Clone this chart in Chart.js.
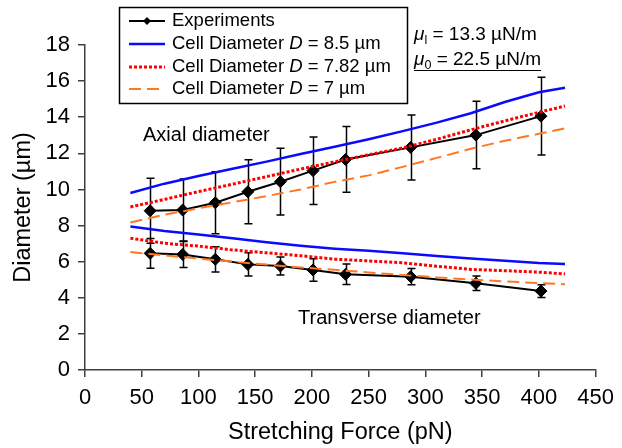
<!DOCTYPE html>
<html>
<head>
<meta charset="utf-8">
<script src="https://cdn.jsdelivr.net/npm/chart.js@4/dist/chart.umd.min.js"></script>
<style>
  html, body { margin: 0; padding: 0; background: #fff; }
</style>
</head>
<body>
<canvas id="diameterChart" width="622" height="448"></canvas>
<script>
// measured cell diameters (um) against stretching force (pN)
const forceExp = [57.4, 86.1, 114.8, 143.5, 172.2, 200.9, 229.6, 287, 344.4, 401.8];
const axialExp = [8.82, 8.86, 9.26, 9.87, 10.43, 11.04, 11.66, 12.33, 13.01, 14.06];
const axialErr = [1.8, 1.72, 1.72, 1.77, 1.85, 1.87, 1.82, 1.8, 1.87, 2.15];
const transExp = [6.46, 6.4, 6.13, 5.85, 5.76, 5.54, 5.3, 5.17, 4.8, 4.37];
const transErr = [0.82, 0.72, 0.7, 0.65, 0.5, 0.62, 0.57, 0.45, 0.4, 0.35];

// model predictions for three initial cell diameters
const forceModel = [40, 70, 100, 130, 160, 190, 220, 250, 280, 310, 340, 370, 400, 423];
const axial85  = [9.8, 10.32, 10.74, 11.15, 11.54, 11.96, 12.36, 12.78, 13.23, 13.7, 14.22, 14.84, 15.38, 15.63];
const axial782 = [9.03, 9.45, 9.88, 10.29, 10.71, 11.13, 11.53, 11.92, 12.3, 12.78, 13.3, 13.8, 14.27, 14.62];
const axial7   = [8.17, 8.6, 8.96, 9.29, 9.63, 10.0, 10.42, 10.78, 11.25, 11.75, 12.25, 12.7, 13.08, 13.38];
const trans85  = [7.95, 7.7, 7.5, 7.3, 7.08, 6.88, 6.72, 6.6, 6.46, 6.32, 6.17, 6.05, 5.92, 5.87];
const trans782 = [7.3, 7.02, 6.86, 6.65, 6.49, 6.33, 6.14, 6.04, 5.94, 5.75, 5.57, 5.5, 5.42, 5.32];
const trans7   = [6.53, 6.35, 6.17, 6.0, 5.84, 5.68, 5.55, 5.4, 5.26, 5.13, 5.01, 4.91, 4.81, 4.75];

const legendLabels = ['Experiments', 'Cell Diameter ', 'Cell Diameter ', 'Cell Diameter '];
const legendDiameters = [null, '8.5', '7.82', '7'];

const FONT = '"Liberation Sans", Arial, sans-serif';
const BLUE = '#0a0aff';
const RED = '#ff0000';
const ORANGE = '#ff7722';
const AXIS = '#404040';

function pts(xs, ys) {
  return ys.map((y, i) => ({ x: xs[i], y: y }));
}

const styles = {
  exp:    { borderColor: '#000', borderWidth: 2, borderDash: [], order: 4 },
  d85:    { borderColor: BLUE, borderWidth: 2.5, borderDash: [], order: 3 },
  d782:   { borderColor: RED, borderWidth: 3, borderDash: [3, 2], order: 2 },
  d7:     { borderColor: ORANGE, borderWidth: 2, borderDash: [12, 6], order: 1 }
};

function modelSet(values, style) {
  return Object.assign({
    data: pts(forceModel, values),
    showLine: true,
    pointRadius: 0,
    tension: 0
  }, style);
}

function expSet(values) {
  return Object.assign({
    data: pts(forceExp, values),
    showLine: true,
    pointStyle: 'rectRot',
    pointRadius: 6,
    pointBackgroundColor: '#000',
    pointBorderColor: '#000',
    pointBorderWidth: 1,
    tension: 0
  }, styles.exp);
}

// vertical error bars with short caps under the experiment markers
const errorBars = {
  id: 'errorBars',
  beforeDatasetsDraw(chart) {
    const ctx = chart.ctx, xs = chart.scales.x, ys = chart.scales.y;
    ctx.save();
    ctx.strokeStyle = '#000';
    ctx.lineWidth = 1.5;
    [[axialExp, axialErr], [transExp, transErr]].forEach(([vals, errs]) => {
      vals.forEach((v, i) => {
        const px = Math.round(xs.getPixelForValue(forceExp[i])) + 0.5;
        const top = ys.getPixelForValue(v + errs[i]);
        const bot = ys.getPixelForValue(v - errs[i]);
        ctx.beginPath();
        ctx.moveTo(px, top); ctx.lineTo(px, bot);
        ctx.moveTo(px - 4, top); ctx.lineTo(px + 4, top);
        ctx.moveTo(px - 4, bot); ctx.lineTo(px + 4, bot);
        ctx.stroke();
      });
    });
    ctx.restore();
  }
};

// boxed legend, curve labels and the shear modulus note
const overlay = {
  id: 'overlay',
  afterDraw(chart) {
    const ctx = chart.ctx;
    ctx.save();

    // legend box
    ctx.strokeStyle = '#000';
    ctx.lineWidth = 1.5;
    ctx.strokeRect(119.5, 7.5, 288, 96);

    const rowY = [21, 44, 67, 89];
    const rowStyle = [styles.exp, styles.d85, styles.d782, styles.d7];
    ctx.textBaseline = 'middle';
    rowY.forEach((y, i) => {
      const st = rowStyle[i];
      ctx.strokeStyle = st.borderColor;
      ctx.lineWidth = st.borderWidth;
      ctx.setLineDash(st.borderDash);
      ctx.beginPath();
      ctx.moveTo(129, y);
      ctx.lineTo(165, y);
      ctx.stroke();
      ctx.setLineDash([]);
      if (i === 0) {
        ctx.fillStyle = '#000';
        ctx.beginPath();
        ctx.moveTo(147, y - 4); ctx.lineTo(151, y); ctx.lineTo(147, y + 4); ctx.lineTo(143, y);
        ctx.closePath();
        ctx.fill();
      }
      let x = 172;
      ctx.fillStyle = '#000';
      ctx.font = '18.5px ' + FONT;
      ctx.fillText(legendLabels[i], x, y);
      x += ctx.measureText(legendLabels[i]).width;
      if (legendDiameters[i] !== null) {
        ctx.font = 'italic 18.5px ' + FONT;
        ctx.fillText('D', x, y);
        x += ctx.measureText('D').width;
        ctx.font = '18.5px ' + FONT;
        ctx.fillText(' = ' + legendDiameters[i] + ' \u00b5m', x, y);
      }
    });

    // curve labels
    ctx.textBaseline = 'alphabetic';
    ctx.fillStyle = '#000';
    ctx.font = '20px ' + FONT;
    ctx.fillText('Axial diameter', 143, 141);
    ctx.fillText('Transverse diameter', 298, 324);

    // moduli
    function modulus(sub, text, y) {
      let x = 414;
      ctx.font = 'italic 19px ' + FONT;
      ctx.fillText('\u03bc', x, y);
      x += ctx.measureText('\u03bc').width;
      ctx.font = '12.5px ' + FONT;
      ctx.fillText(sub, x, y + 4);
      x += ctx.measureText(sub).width;
      ctx.font = '19px ' + FONT;
      ctx.fillText(text, x, y);
      return x + ctx.measureText(text).width;
    }
    modulus('l', ' = 13.3 \u00b5N/m', 40);
    const end = modulus('0', ' = 22.5 \u00b5N/m', 65);
    ctx.strokeStyle = '#000';
    ctx.lineWidth = 1;
    ctx.beginPath();
    ctx.moveTo(414, 70.5);
    ctx.lineTo(Math.max(end, 541), 70.5);
    ctx.stroke();

    ctx.restore();
  }
};

const ctx = document.getElementById('diameterChart').getContext('2d');
const diameterChart = new Chart(ctx, {
  type: 'scatter',
  data: {
    datasets: [
      expSet(axialExp),
      expSet(transExp),
      modelSet(axial85, styles.d85),
      modelSet(trans85, styles.d85),
      modelSet(axial782, styles.d782),
      modelSet(trans782, styles.d782),
      modelSet(axial7, styles.d7),
      modelSet(trans7, styles.d7)
    ]
  },
  options: {
    responsive: false,
    animation: false,
    devicePixelRatio: 1,
    layout: { padding: { left: 0, top: 45, right: 20, bottom: 0 } },
    plugins: {
      legend: { display: false },
      tooltip: { enabled: false }
    },
    scales: {
      x: {
        type: 'linear',
        min: 0,
        max: 450,
        ticks: { stepSize: 50, color: '#000', padding: 8, font: { family: FONT, size: 22 } },
        grid: { drawOnChartArea: false, drawTicks: true, tickLength: 7, color: AXIS, lineWidth: 1.5 },
        border: { color: AXIS, width: 1.5 },
        title: {
          display: true,
          text: 'Stretching Force (pN)',
          color: '#000',
          font: { family: FONT, size: 23.5 },
          padding: { top: 0, bottom: 1 }
        },
        afterFit(scale) { scale.height = 78; }
      },
      y: {
        type: 'linear',
        min: 0,
        max: 18,
        ticks: { stepSize: 2, color: '#000', padding: 8, font: { family: FONT, size: 22 } },
        grid: { drawOnChartArea: false, drawTicks: true, tickLength: 7, color: AXIS, lineWidth: 1.5 },
        border: { color: AXIS, width: 1.5 },
        title: {
          display: true,
          text: 'Diameter (\u00b5m)',
          color: '#000',
          font: { family: FONT, size: 23.5 },
          padding: { top: 9, bottom: 0 }
        },
        afterFit(scale) { scale.width = 85; }
      }
    }
  },
  plugins: [errorBars, overlay]
});
</script>
</body>
</html>
